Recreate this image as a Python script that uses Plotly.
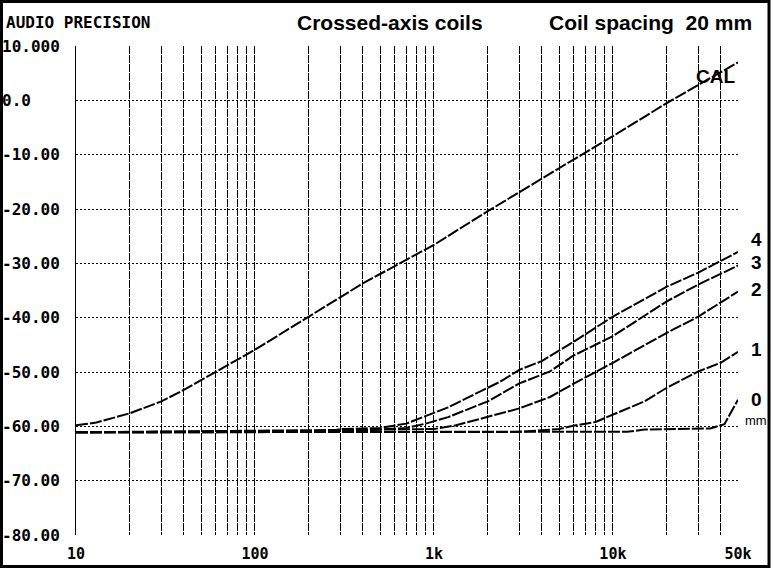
import plotly.graph_objects as go

# ---- data ----
cal_freq = [10, 13, 20, 30, 40, 50, 70, 100, 200, 400, 1000, 2000, 5000, 10000, 20000, 50000]
cal_db = [-59.8, -59.3, -57.6, -55.4, -53.3, -51.5, -48.9, -45.9, -39.8, -33.7, -26.6, -20.4, -12.5, -6.6, -0.5, 7.0]

c4_freq = [10, 250, 300, 500, 700, 1000, 1200, 2000, 2340, 3000, 4000, 6000, 8000, 10000, 20000, 30000, 50000]
c4_db = [-61.1, -61.0, -60.5, -60.3, -59.5, -57.6, -56.5, -52.9, -51.8, -49.6, -48.0, -44.5, -41.9, -39.8, -34.3, -31.7, -27.9]

c3_freq = [10, 400, 700, 900, 1200, 2000, 3000, 4450, 6000, 10000, 20000, 30000, 50000]
c3_db = [-61.1, -60.8, -60.3, -59.5, -58.3, -55.4, -52.1, -49.9, -47.0, -43.4, -37.0, -33.9, -30.4]

c2_freq = [10, 1000, 1330, 2000, 3000, 4450, 6000, 10000, 20000, 30000, 50000]
c2_db = [-61.1, -60.5, -59.8, -58.3, -56.7, -54.6, -52.2, -48.3, -42.8, -39.8, -35.2]

c1_freq = [10, 3000, 5000, 6000, 8000, 10000, 15000, 20000, 30000, 40000, 50000]
c1_db = [-61.1, -61.0, -60.5, -59.9, -59.2, -57.8, -55.4, -52.9, -49.9, -48.3, -46.3]

c0_freq = [10, 12000, 15000, 35000, 42000, 50000]
c0_db = [-61.1, -61.0, -60.6, -60.4, -59.6, -55.1]

x_tickvals = [10, 20, 30, 40, 50, 60, 70, 80, 90,
              100, 200, 300, 400, 500, 600, 700, 800, 900,
              1000, 2000, 3000, 4000, 5000, 6000, 7000, 8000, 9000,
              10000, 20000, 30000, 40000, 50000]
x_labels = {10: "10", 100: "100", 1000: "1k", 10000: "10k", 50000: "50k"}
y_tickvals = [10, 0, -10, -20, -30, -40, -50, -60, -70, -80]
y_ticktext = ["10.000", "0.0", "-10.00", "-20.00", "-30.00", "-40.00", "-50.00", "-60.00", "-70.00", "-80.00"]

curve_labels = ["4", "3", "2", "1", "0"]
curve_label_db = [-25.7, -29.9, -34.9, -45.9, -55.1]

# ---- figure ----
NB = "\u00a0"
width_chars = max(len(t) for t in y_ticktext)
y_text_padded = [t + NB * (width_chars - len(t)) for t in y_ticktext]
x_ticktext = [x_labels.get(v, "") for v in x_tickvals]

mono = "DejaVu Sans Mono"
sans = "Liberation Sans"

fig = go.Figure()
line_style = dict(color="black", width=2, dash="12px,2px")
for fx, fy in [(cal_freq, cal_db), (c4_freq, c4_db), (c3_freq, c3_db),
               (c2_freq, c2_db), (c1_freq, c1_db), (c0_freq, c0_db)]:
    fig.add_trace(go.Scatter(x=fx, y=fy, mode="lines", line=line_style,
                             showlegend=False, hoverinfo="skip"))

L, R, T, B = 76, 738, 46, 535
W, H = 774, 568
pw, ph = R - L, B - T


def px_x(p):
    return (p - L) / pw


def px_y(p):
    return (B - p) / ph


fig.update_layout(
    width=W, height=H,
    margin=dict(l=L, r=W - R, t=T, b=H - B, pad=0, autoexpand=False),
    paper_bgcolor="white", plot_bgcolor="white",
    showlegend=False,
    xaxis=dict(type="log", range=[1, 4.69897], tickvals=x_tickvals, ticktext=x_ticktext,
               showgrid=True, gridcolor="black", gridwidth=1, griddash="8px,1px",
               showline=False, zeroline=False, ticks="", automargin=False,
               tickfont=dict(family=mono, size=15, color="black", weight="bold"),
               ticklabelstandoff=8),
    yaxis=dict(range=[-80, 10], tickvals=y_tickvals, ticktext=y_text_padded,
               showgrid=True, gridcolor="black", gridwidth=1, griddash="2px,2px",
               showline=True, linecolor="black", linewidth=1, zeroline=False, ticks="",
               automargin=False,
               tickfont=dict(family=mono, size=16, color="black", weight="bold"),
               ticklabelstandoff=12),
)

# outer frame
fig.add_shape(type="rect", xref="paper", yref="paper",
              x0=px_x(1.5), x1=px_x(769), y0=px_y(566.5), y1=px_y(1.5),
              line=dict(color="black", width=3), layer="above")

# header texts
fig.add_annotation(xref="paper", yref="paper", x=px_x(4), y=px_y(22), xanchor="left", yanchor="middle",
                   text="AUDIO PRECISION", showarrow=False,
                   font=dict(family=mono, size=16, color="black", weight="bold"))
fig.add_annotation(xref="paper", yref="paper", x=px_x(390), y=px_y(22), xanchor="center", yanchor="middle",
                   text="Crossed-axis coils", showarrow=False,
                   font=dict(family=sans, size=21, color="black", weight="bold"))
fig.add_annotation(xref="paper", yref="paper", x=px_x(754), y=px_y(22), xanchor="right", yanchor="middle",
                   text="Coil spacing" + NB + NB + "20 mm", showarrow=False,
                   font=dict(family=sans, size=21, color="black", weight="bold"))

# curve labels
for lab, ydb in zip(curve_labels, curve_label_db):
    fig.add_annotation(xref="paper", yref="y", x=px_x(756), y=ydb, xanchor="center", yanchor="middle",
                       text=lab, showarrow=False,
                       font=dict(family=sans, size=19, color="black", weight="bold"))
fig.add_annotation(xref="paper", yref="y", x=px_x(743), y=-58.9, xanchor="left", yanchor="middle",
                   text="mm", showarrow=False, font=dict(family=sans, size=13, color="black"))
fig.add_annotation(xref="x", yref="y", x=4.575, y=4.3, xanchor="center", yanchor="middle",
                   text="CAL", showarrow=False,
                   font=dict(family=sans, size=19, color="black", weight="bold"))

fig.write_html("out.html", config={"displayModeBar": False},
               post_script="document.body.style.margin='0';document.body.style.padding='0';")
